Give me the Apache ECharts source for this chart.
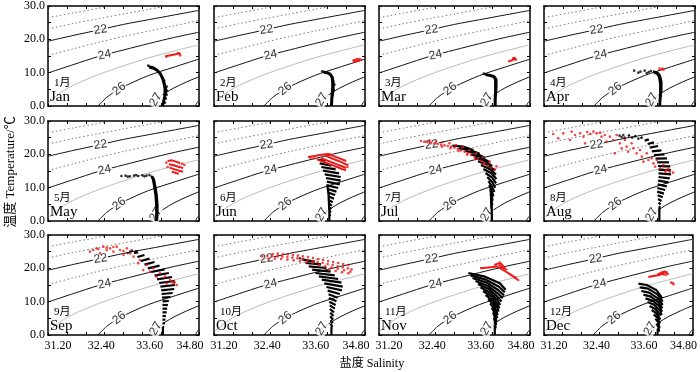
<!DOCTYPE html>
<html>
<head>
<meta charset="utf-8">
<script src="https://cdn.jsdelivr.net/npm/echarts@6/dist/echarts.min.js"></script>
<style>
  html, body { margin: 0; padding: 0; background: #fff; }
  #main { width: 700px; height: 372px; }
</style>
</head>
<body>
<div id="main"></div>
<script>
// ---------- axes ----------
const sLabels = [31.2, 32.4, 33.6, 34.8];
const sTicks = [31.2, 31.65, 32.1, 32.55, 33.0, 33.45, 33.9, 34.35, 34.8];
const tLabels = [0, 10, 20, 30];
const tTicks = [0, 5, 10, 15, 20, 25, 30];
const monthsCn = ['1月', '2月', '3月', '4月', '5月', '6月', '7月', '8月', '9月', '10月', '11月', '12月'];
const monthsEn = ['Jan', 'Feb', 'Mar', 'Apr', 'May', 'Jun', 'Jul', 'Aug', 'Sep', 'Oct', 'Nov', 'Dec'];

// ---------- isopycnals (salinity, temperature) ----------
const sig19 = [[31.2, 29.63], [31.36, 30]];
const sig20 = [[31.2, 26.49], [31.8, 27.91], [32.4, 29.31], [32.69, 30]];
const sig21 = [[31.2, 23.11], [31.8, 24.74], [32.4, 26.19], [33.0, 27.6], [33.6, 29.0], [34.03, 30]];
const sig22 = [[31.2, 19.44], [31.8, 21.16], [32.4, 22.79], [33.0, 24.48], [33.6, 25.89], [34.2, 27.29], [34.8, 28.69]];
const sig23 = [[31.2, 15.19], [31.8, 17.14], [32.4, 19.08], [33.0, 20.85], [33.6, 22.47], [34.2, 24.08], [34.8, 25.6]];
const sig24 = [[31.2, 9.9], [31.8, 12.4], [32.4, 14.84], [33.0, 16.81], [33.6, 18.73], [34.2, 20.54], [34.8, 22.15]];
const sig25 = [[31.2, 0.8], [31.5, 4.0], [31.8, 6.2], [32.4, 9.4], [33.0, 12.04], [33.6, 14.45], [34.2, 16.48], [34.8, 18.39]];
const sig26 = [[32.39, 0], [32.6, 2.6], [32.8, 4.35], [33.0, 5.8], [33.6, 9.15], [34.2, 11.65], [34.8, 14.07]];
const sig27 = [[33.63, 0], [33.7, 1.0], [33.8, 2.1], [34.0, 3.9], [34.2, 5.4], [34.5, 7.2], [34.8, 8.8]];
const sigCorner = [[34.71, 0], [34.75, 0.9], [34.8, 1.6]];
const isoLines = [sig19, sig20, sig21, sig22, sig23, sig24, sig25, sig26, sig27, sigCorner];
const isoKinds = ['dot', 'dot', 'dot', 'solid', 'dot', 'solid', 'light', 'solid', 'solid', 'solid'];
const isoLabelText = ['22', '24', '26', '27'];
const isoLabelPos = [[32.45, 22.9], [32.55, 15.3], [32.9, 5.1], [33.77, 1.9]];
const isoLabelRot = [8, 12, 38, 60];

// ---------- monthly T-S data ----------
// black*Rows: runs of densely packed stations (drawn as thick strokes); *Pts: single points
const blackRowsJan = [
  [[33.60,11.9],[33.70,11.6],[33.80,10.9],[33.88,9.8],[33.94,8.4],[33.98,6.8],[34.01,5.2],[34.01,4.0],[33.99,2.8],[33.96,1.4],[33.94,0]],
  [[33.62,11.5],[33.72,11.2],[33.82,10.4],[33.89,9.2],[33.93,8.0],[33.96,6.6],[33.98,5.2],[33.98,4.0],[33.97,2.8],[33.95,1.4],[33.93,0]]];
const blackPtsJan = [[34.03,5.8],[34.04,4.6],[34.03,3.4],[34.01,2.2],[33.99,1.0],[33.97,7.6],[33.59,12.1]];
const redRowsJan = [[[34.00,14.9],[34.12,15.2],[34.24,15.5],[34.34,15.8],[34.35,15.4]]];
const redPtsJan = [[34.02,14.8],[34.30,15.9],[34.35,15.2]];

const blackRowsFeb = [
  [[33.80,10.3],[33.90,10.1],[33.98,9.6],[34.03,8.6],[34.05,7.2],[34.05,5.6],[34.04,4.0],[34.02,2.4],[34.01,0]],
  [[33.82,10.0],[33.92,9.8],[33.98,9.2],[34.01,8.4],[34.02,7.0],[34.02,5.6],[34.01,4.0],[34.00,2.4],[33.99,0]]];
const blackPtsFeb = [[33.78,10.4],[34.07,6.4],[34.06,4.8]];
const redRowsFeb = [[[34.52,13.1],[34.60,13.4],[34.68,13.7]], [[34.50,13.6],[34.57,13.9],[34.64,14.2]]];
const redPtsFeb = [[34.66,14.1],[34.70,13.9],[34.55,13.3]];

const blackRowsMar = [
  [[33.72,9.6],[33.85,9.3],[33.95,8.9],[34.00,8.0],[34.00,6.0],[33.99,4.0],[33.98,2.0],[33.98,0]],
  [[33.74,9.3],[33.86,9.0],[33.94,8.6],[33.97,7.8],[33.97,6.0],[33.97,4.0],[33.96,2.0],[33.96,0]]];
const blackPtsMar = [[33.70,9.7]];
const redRowsMar = [[[34.28,13.3],[34.38,13.8],[34.47,14.3]]];
const redPtsMar = [[34.42,14.4],[34.46,13.9],[34.44,14.2],[34.40,14.3]];

const blackRowsApr = [
  [[33.80,10.4],[33.90,10.0],[33.95,9.4],[33.98,8.4],[34.00,7.2],[34.00,4.8],[33.99,3.6],[33.97,1.2],[33.97,0]],
  [[33.82,10.1],[33.90,9.6],[33.94,8.8],[33.96,7.6],[33.97,6.0],[33.97,4.0],[33.96,2.0],[33.95,0]]];
const blackPtsApr = [[33.35,10.6],[33.50,10.3],[33.60,10.6],[33.70,10.2],[33.75,10.5],[33.45,10.0],[33.65,9.9]];
const redRowsApr = [];
const redPtsApr = [[33.95,11.2],[34.00,11.0],[34.05,10.9],[34.02,11.2]];

const blackRowsMay = [
  [[33.66,13.6],[33.70,12.5],[33.73,10.5],[33.76,8.0],[33.78,5.0],[33.78,2.5],[33.78,0]],
  [[33.69,13.4],[33.73,12.3],[33.76,10.3],[33.79,8.0],[33.81,5.0],[33.81,2.5],[33.80,0]]];
const blackPtsMay = [[32.95,13.5],[33.05,13.6],[33.15,13.4],[33.25,13.6],[33.35,13.5],[33.45,13.7],[33.55,13.6],[33.62,13.8],[33.10,13.3],[33.30,13.8],[33.50,13.4]];
const redRowsMay = [
  [[34.05,18.0],[34.15,18.2],[34.25,17.8],[34.35,17.4]],
  [[34.08,17.0],[34.18,16.8],[34.30,16.3],[34.42,15.9]],
  [[34.10,16.0],[34.22,15.5],[34.32,15.1],[34.42,14.8]],
  [[34.15,14.8],[34.25,14.4],[34.32,14.2]]];
const redPtsMay = [[34.45,16.8],[34.05,16.2],[34.40,17.2],[34.02,17.5]];

const blackRowsJun = [
  [[33.69,18.4],[33.85,18.0]],
  [[33.72,17.3],[34.00,16.6]],
  [[33.76,16.2],[34.10,15.5]],
  [[33.80,15.1],[34.18,14.3]],
  [[33.84,14.0],[34.22,13.2]],
  [[33.87,12.9],[34.22,12.1]],
  [[33.89,11.8],[34.20,11.0]],
  [[33.90,10.7],[34.16,9.9]],
  [[33.91,9.6],[34.12,8.8]],
  [[33.92,8.5],[34.09,7.8]],
  [[33.93,7.4],[34.06,6.7]],
  [[33.93,6.3],[34.03,5.6]],
  [[33.94,5.2],[34.01,4.6]],
  [[33.94,4.1],[34.00,3.6]],
  [[33.95,3.0],[33.99,2.6]],
  [[33.95,1.9],[33.98,1.5]],
  [[33.95,0],[33.95,3.0],[33.93,8.0],[33.90,11.0]]];
const blackPtsJun = [];
const redRowsJun = [
  [[33.44,19.2],[33.60,19.5],[33.76,19.9],[33.92,20.1],[34.00,19.9]],
  [[33.65,18.5],[33.85,17.6],[34.05,16.6],[34.25,15.6],[34.35,15.2]],
  [[33.75,18.9],[33.95,17.9],[34.15,16.9],[34.35,15.9]],
  [[33.85,19.6],[34.05,18.6],[34.25,17.6],[34.40,16.7]],
  [[33.95,20.0],[34.15,19.0],[34.35,18.0]]];
const redPtsJun = [[33.50,19.0],[33.58,18.8],[34.38,16.2]];

const blackRowsJul = [
  [[32.95,22.6],[33.20,22.3],[33.45,21.3]],
  [[33.10,21.8],[33.35,21.4],[33.60,20.2]],
  [[33.25,21.0],[33.50,20.4],[33.72,19.0]],
  [[33.38,20.0],[33.60,19.3],[33.82,17.8]],
  [[33.48,19.0],[33.70,18.1],[33.90,16.5]],
  [[33.56,17.9],[33.78,16.9],[33.96,15.2]],
  [[33.63,16.8],[33.84,15.6],[33.99,13.9]],
  [[33.69,15.6],[33.88,14.3],[34.00,12.6]],
  [[33.74,14.4],[33.90,13.0],[33.99,11.3]],
  [[33.78,13.2],[33.90,11.7],[33.97,10.0]],
  [[33.81,12.0],[33.89,10.4],[33.95,8.7]],
  [[33.83,10.8],[33.88,9.2],[33.93,7.4]],
  [[33.85,9.5],[33.88,7.9],[33.91,6.1]],
  [[33.86,8.2],[33.88,6.6],[33.90,4.8]],
  [[33.87,6.9],[33.88,5.3],[33.89,3.5]],
  [[33.89,0],[33.89,3.0],[33.87,6.0]]];
const blackPtsJul = [];
const redRowsJul = [];
const redPtsJul = [[32.20,24.0],[32.28,23.8],[32.36,23.6],[32.44,23.5],[32.52,23.3],[32.60,23.1],[32.68,22.9],[32.76,22.7],[32.84,22.5],[32.92,22.3],[33.00,22.0],[33.08,21.6],[33.16,21.2],[33.24,20.8],[33.32,20.3],[33.40,19.8],[33.48,19.2],[33.56,18.6],[33.64,18.0],[33.72,17.3],[33.80,16.6],[33.88,16.0],[33.96,15.4],
  [32.40,24.2],[32.56,24.0],[32.72,23.7],[32.88,23.3],[33.04,22.8],[33.20,22.1],[33.36,21.3],[33.52,20.3],[33.68,19.1],[33.84,17.8],[34.00,16.4],
  [32.70,22.3],[32.90,21.8],[33.10,21.0],[33.30,19.9],[33.50,18.6],[33.70,17.0]];

const blackRowsAug = [
  [[33.20,25.5],[33.25,25.8]],
  [[33.35,25.2],[33.40,25.6]],
  [[33.50,24.8],[33.55,25.2]],
  [[33.60,24.1],[33.70,24.5]],
  [[33.67,23.1],[33.82,23.6]],
  [[33.72,22.0],[33.92,22.5]],
  [[33.77,20.9],[34.00,21.2]],
  [[33.82,19.8],[34.07,20.0]],
  [[33.86,18.7],[34.13,18.8]],
  [[33.90,17.6],[34.18,17.6]],
  [[33.92,16.5],[34.21,16.4]],
  [[33.93,15.4],[34.23,15.2]],
  [[33.93,14.3],[34.23,14.0]],
  [[33.93,13.2],[34.20,12.8]],
  [[33.92,12.1],[34.17,11.6]],
  [[33.91,11.0],[34.13,10.4]],
  [[33.90,9.9],[34.09,9.3]],
  [[33.90,8.8],[34.06,8.2]],
  [[33.91,7.7],[34.03,7.1]],
  [[33.92,6.6],[34.00,6.0]],
  [[33.93,5.5],[33.98,5.0]],
  [[33.94,4.4],[33.97,4.0]],
  [[33.95,0],[33.95,4.0]]];
const blackPtsAug = [[33.00,25.6],[33.05,25.2],[33.12,25.0],[33.09,25.8],[33.30,25.0],[33.45,24.7]];
const redRowsAug = [];
const redPtsAug = [[31.42,26.1],[31.54,24.8],[31.66,26.3],[31.82,24.3],[31.86,26.8],[31.94,25.8],[32.06,26.3],[32.14,25.3],[32.18,23.3],[32.23,26.7],[32.30,26.1],[32.38,26.8],[32.46,26.3],[32.54,26.5],[32.57,25.3],[32.65,25.8],[32.69,23.8],[32.77,25.3],[32.85,24.3],[32.89,20.3],[32.93,25.8],[33.01,23.3],[33.05,21.8],[33.13,24.3],[33.17,22.3],[33.21,20.8],[33.29,23.3],[33.33,21.8],[33.41,20.3],[33.49,21.3],[33.53,19.3],[33.57,17.8],[33.65,20.3],[33.69,18.3],[33.77,18.8],[33.81,17.3],[33.85,16.3],[33.89,18.3],[33.97,15.8],[34.05,16.8],[34.12,15.3],[34.20,14.8],[34.28,14.5],[34.16,15.8],[34.09,14.8]];

const blackRowsSep = [
  [[33.25,24.6],[33.35,24.8]],
  [[33.33,23.4],[33.50,24.0]],
  [[33.41,22.2],[33.62,22.9]],
  [[33.50,21.1],[33.74,21.9]],
  [[33.58,20.0],[33.86,20.8]],
  [[33.66,18.9],[33.98,19.7]],
  [[33.74,17.8],[34.08,18.6]],
  [[33.80,16.7],[34.16,17.4]],
  [[33.85,15.6],[34.22,16.2]],
  [[33.88,14.5],[34.23,15.0]],
  [[33.90,13.4],[34.21,13.8]],
  [[33.91,12.3],[34.17,12.6]],
  [[33.92,11.2],[34.12,11.4]],
  [[33.93,10.1],[34.08,10.2]],
  [[33.93,9.0],[34.06,9.0]],
  [[33.93,7.9],[34.04,7.9]],
  [[33.93,6.8],[34.03,6.8]],
  [[33.93,5.7],[34.01,5.7]],
  [[33.93,4.6],[34.00,4.6]],
  [[33.93,3.5],[33.99,3.5]],
  [[33.93,2.4],[33.97,2.4]],
  [[33.94,0],[33.94,2.4]]];
const blackPtsSep = [[33.16,25.0],[33.20,25.3],[33.30,25.1],[33.10,24.6]];
const redRowsSep = [];
const redPtsSep = [[32.20,25.0],[32.36,26.0],[32.52,26.5],[32.68,26.0],[32.84,26.5],[32.92,25.5],[33.08,26.0],[32.44,24.5],[32.60,25.5],[32.76,25.0],[33.00,24.0],[33.24,23.5],[33.39,22.5],[33.55,21.0],[33.71,20.0],[33.87,18.5],[33.99,17.5],[34.11,16.5],[34.19,15.5],[34.27,15.0],[34.03,15.5],[33.79,17.5],[33.63,19.0],[33.47,19.5],[33.35,21.5],[33.16,24.5],[32.28,25.5],[32.40,25.8],[32.60,26.2],[32.76,26.4],[33.00,25.2],[34.15,16.0],[34.22,15.8]];

const blackRowsOct = [
  [[33.30,22.7],[33.60,22.0]],
  [[33.38,21.6],[33.75,21.2]],
  [[33.46,20.6],[33.88,20.1]],
  [[33.54,19.6],[33.98,19.0]],
  [[33.62,18.6],[34.08,17.9]],
  [[33.70,17.6],[34.16,16.8]],
  [[33.77,16.6],[34.24,15.7]],
  [[33.83,15.5],[34.27,14.5]],
  [[33.88,14.4],[34.25,13.4]],
  [[33.91,13.3],[34.20,12.3]],
  [[33.93,12.2],[34.15,11.2]],
  [[33.94,11.1],[34.12,10.1]],
  [[33.95,10.0],[34.10,9.0]],
  [[33.96,8.9],[34.08,7.9]],
  [[33.96,7.8],[34.06,6.8]],
  [[33.97,6.7],[34.05,5.7]],
  [[33.97,5.6],[34.04,4.6]],
  [[33.98,4.5],[34.03,3.5]],
  [[33.98,3.4],[34.02,2.4]],
  [[34.00,0],[34.00,2.4]]];
const blackPtsOct = [[33.25,23.0]];
const redRowsOct = [];
const redPtsOct = [[32.60,24.3],[32.72,24.4],[32.84,24.3],[32.96,24.2],[33.08,24.0],[33.20,23.8],[33.32,23.6],[33.44,23.4],[33.56,23.1],[33.68,22.8],[33.80,22.5],[33.92,22.2],[34.04,21.9],[34.16,21.6],[34.28,21.3],[34.40,21.0],
  [32.35,23.6],[32.47,23.7],[32.59,23.7],[32.71,23.6],[32.83,23.5],[32.95,23.4],[33.07,23.2],[33.19,23.0],[33.31,22.8],[33.43,22.5],[33.55,22.2],[33.67,21.9],[33.79,21.6],[33.91,21.3],[34.03,21.0],[34.15,20.6],[34.27,20.3],[34.39,20.0],[34.48,19.7],
  [32.50,22.9],[32.65,22.9],[32.80,22.8],[32.95,22.6],[33.10,22.4],[33.25,22.1],[33.40,21.8],[33.55,21.4],[33.70,21.0],[33.85,20.6],[34.00,20.2],[34.15,19.8],[34.30,19.4],[34.45,19.0],
  [34.10,19.2],[34.25,18.8],[34.40,18.5],[33.95,19.6]];

const blackRowsNov = [
  [[33.33,18.6],[33.73,17.5],[34.08,15.5],[34.22,13.6]],
  [[33.38,17.9],[33.75,16.6],[34.06,14.5],[34.20,12.8]],
  [[33.43,17.1],[33.77,15.7],[34.04,13.5],[34.18,11.9]],
  [[33.50,16.2],[33.80,14.7],[34.03,12.5],[34.15,11.0]],
  [[33.56,15.3],[33.83,13.7],[34.02,11.5],[34.12,10.0]],
  [[33.62,14.3],[33.86,12.6],[34.02,10.5],[34.09,9.0]],
  [[33.68,13.2],[33.89,11.5],[34.02,9.4],[34.07,8.0]],
  [[33.74,12.0],[33.92,10.3],[34.02,8.3],[34.05,7.0]],
  [[33.80,10.8],[33.94,9.1],[34.03,6.0]],
  [[33.85,9.5],[33.95,7.8],[34.02,5.0]],
  [[33.89,8.2],[33.96,6.5],[34.00,4.0]],
  [[33.92,6.8],[33.97,5.0],[33.99,3.0]],
  [[33.94,5.2],[33.97,3.6],[33.98,2.0]],
  [[33.96,0],[33.96,3.0]]];
const blackPtsNov = [];
const redRowsNov = [
  [[33.61,20.0],[33.75,20.2],[33.90,20.4],[34.02,20.6]],
  [[33.95,21.0],[34.05,21.5],[34.12,21.3],[34.20,20.0]],
  [[34.00,20.5],[34.10,20.0],[34.20,19.2],[34.30,18.4],[34.40,17.6],[34.50,16.7]],
  [[34.05,21.0],[34.15,20.3],[34.25,19.5]]];
const redPtsNov = [[34.08,21.7],[34.52,16.5],[34.45,17.2],[34.35,18.0]];

const blackRowsDec = [
  [[33.49,15.4],[33.69,15.0],[33.93,13.4],[34.07,11.0]],
  [[33.52,14.3],[33.72,13.9],[33.95,12.2],[34.08,10.0]],
  [[33.56,13.2],[33.75,12.7],[33.96,11.0],[34.08,9.0]],
  [[33.61,12.1],[33.79,11.5],[33.98,9.8],[34.07,8.0]],
  [[33.66,11.0],[33.83,10.3],[34.00,8.6],[34.06,7.0]],
  [[33.71,9.9],[33.87,9.1],[34.02,7.2],[34.05,6.0]],
  [[33.76,8.7],[33.90,7.8],[34.03,5.8]],
  [[33.81,7.5],[33.93,6.5],[34.02,4.6]],
  [[33.86,6.2],[33.95,5.2],[34.01,3.4]],
  [[33.90,4.9],[33.97,3.8],[34.00,2.2]],
  [[33.93,3.4],[33.98,2.2],[33.99,1.0]],
  [[33.95,0],[33.96,2.0]]];
const blackPtsDec = [];
const redRowsDec = [
  [[33.73,17.4],[33.85,17.7],[33.97,17.9],[34.05,18.3],[34.12,18.6]],
  [[33.95,18.2],[34.05,18.7],[34.13,19.1],[34.18,18.4]]];
const redPtsDec = [[34.10,18.2],[34.15,18.0],[34.17,18.8],[34.08,18.9],[34.20,18.3],[34.28,15.7],[34.34,15.2],[34.32,15.6]];

const blackRows = [blackRowsJan, blackRowsFeb, blackRowsMar, blackRowsApr, blackRowsMay, blackRowsJun, blackRowsJul, blackRowsAug, blackRowsSep, blackRowsOct, blackRowsNov, blackRowsDec];
const blackPts = [blackPtsJan, blackPtsFeb, blackPtsMar, blackPtsApr, blackPtsMay, blackPtsJun, blackPtsJul, blackPtsAug, blackPtsSep, blackPtsOct, blackPtsNov, blackPtsDec];
const redRows = [redRowsJan, redRowsFeb, redRowsMar, redRowsApr, redRowsMay, redRowsJun, redRowsJul, redRowsAug, redRowsSep, redRowsOct, redRowsNov, redRowsDec];
const redPts = [redPtsJan, redPtsFeb, redPtsMar, redPtsApr, redPtsMay, redPtsJun, redPtsJul, redPtsAug, redPtsSep, redPtsOct, redPtsNov, redPtsDec];

// ---------- layout ----------
const colX = [48, 214, 379, 544];
const rowY = [6, 121, 235];
const W = 151, H = 100;
const SERIF = '"Liberation Serif", "Noto Sans CJK SC", serif';
const BLACK = '#000', RED = '#f01818';
// tick labels in the source sit pulled in towards the panel centre
const xLabelRich = {
  a0: {padding: [0, 0, 0, 20], fontSize: 12, fontFamily: SERIF, color: '#000'},
  a1: {padding: [0, 0, 0, 6], fontSize: 12, fontFamily: SERIF, color: '#000'},
  a2: {padding: [0, 0, 0, 2], fontSize: 12, fontFamily: SERIF, color: '#000'},
  a3: {padding: [0, 18, 0, 0], fontSize: 12, fontFamily: SERIF, color: '#000'}
};

const chart = echarts.init(document.getElementById('main'));
const grids = [], xAxes = [], yAxes = [], series = [], graphics = [];

function isoStyle(kind) {
  if (kind === 'solid') return {color: '#111', width: 1};
  if (kind === 'light') return {color: '#aaa', width: 0.8};
  return {color: '#555', width: 0.8, type: [1.5, 2.5]};
}

for (let i = 0; i < 12; i++) {
  const r = Math.floor(i / 4), c = i % 4;
  const xi = 2 * i, yi = 2 * i;
  grids.push({left: colX[c], top: rowY[r], width: W, height: H});
  const frame = {show: true, onZero: false, lineStyle: {color: '#000', width: 1.5}};
  const tick = {show: true, inside: true, length: 3, lineStyle: {color: '#000', width: 1}};
  xAxes.push({
    gridIndex: i, type: 'value', min: 31.2, max: 34.8, position: 'bottom',
    axisLine: frame, splitLine: {show: false},
    axisTick: Object.assign({customValues: sTicks}, tick),
    axisLabel: {show: r === 2, customValues: sLabels, margin: 5, rich: xLabelRich,
      formatter: v => '{a' + sLabels.indexOf(v) + '|' + v.toFixed(2) + '}',
      color: '#000', fontSize: 12, fontFamily: SERIF}
  });
  xAxes.push({
    gridIndex: i, type: 'value', min: 31.2, max: 34.8, position: 'top',
    axisLine: frame, splitLine: {show: false},
    axisTick: Object.assign({customValues: sTicks}, tick), axisLabel: {show: false}
  });
  yAxes.push({
    gridIndex: i, type: 'value', min: 0, max: 30, position: 'left',
    axisLine: frame, splitLine: {show: false},
    axisTick: Object.assign({customValues: tTicks}, tick),
    axisLabel: {show: c === 0, customValues: tLabels, formatter: v => v.toFixed(1),
      color: '#000', fontSize: 12, fontFamily: SERIF, margin: 3}
  });
  yAxes.push({
    gridIndex: i, type: 'value', min: 0, max: 30, position: 'right',
    axisLine: frame, splitLine: {show: false},
    axisTick: Object.assign({customValues: tTicks}, tick), axisLabel: {show: false}
  });

  isoLines.forEach((pts, k) => {
    series.push({
      type: 'line', xAxisIndex: xi, yAxisIndex: yi, data: pts,
      smooth: 0.3, symbol: 'none', silent: true, z: 1,
      lineStyle: isoStyle(isoKinds[k])
    });
  });
  series.push({
    type: 'scatter', xAxisIndex: xi, yAxisIndex: yi, symbolSize: 0, silent: true, z: 2,
    data: isoLabelText.map((t, k) => ({name: t, value: isoLabelPos[k], label: {rotate: isoLabelRot[k]}})),
    label: {show: true, position: 'inside', formatter: p => p.name, color: '#000', fontSize: 12,
      fontFamily: '"Liberation Sans", Arial, sans-serif', backgroundColor: '#fff', padding: [0, 1]}
  });
  blackRows[i].forEach(row => series.push({
    type: 'line', xAxisIndex: xi, yAxisIndex: yi, data: row, symbol: 'none', silent: true, z: 3,
    lineStyle: {color: BLACK, width: 2.2}
  }));
  series.push({
    type: 'scatter', xAxisIndex: xi, yAxisIndex: yi, data: blackPts[i],
    symbolSize: 2.6, itemStyle: {color: BLACK}, silent: true, z: 3
  });
  redRows[i].forEach(row => series.push({
    type: 'line', xAxisIndex: xi, yAxisIndex: yi, data: row, symbol: 'none', silent: true, z: 4,
    lineStyle: {color: RED, width: 2}
  }));
  series.push({
    type: 'scatter', xAxisIndex: xi, yAxisIndex: yi, data: redPts[i],
    symbolSize: 2.6, itemStyle: {color: RED}, silent: true, z: 4
  });

  graphics.push({type: 'text', x: colX[c] + 6, y: rowY[r] + 72, z: 100,
    style: {text: monthsCn[i], font: '11px ' + SERIF, fill: '#000', verticalAlign: 'top'}});
  graphics.push({type: 'text', x: colX[c] + 2, y: rowY[r] + 84, z: 100,
    style: {text: monthsEn[i], font: '15px ' + SERIF, fill: '#000', verticalAlign: 'top'}});
}

graphics.push({type: 'text', x: 11, y: 172, rotation: Math.PI / 2,
  style: {text: '温度 Temperature/℃', font: '13px ' + SERIF, fill: '#000', align: 'center', verticalAlign: 'middle'}});
graphics.push({type: 'text', x: 372, y: 364,
  style: {text: '盐度 Salinity', font: '12px ' + SERIF, fill: '#000', align: 'center', verticalAlign: 'middle'}});

chart.setOption({
  animation: false,
  grid: grids,
  xAxis: xAxes,
  yAxis: yAxes,
  series: series,
  graphic: graphics
});
</script>
</body>
</html>
